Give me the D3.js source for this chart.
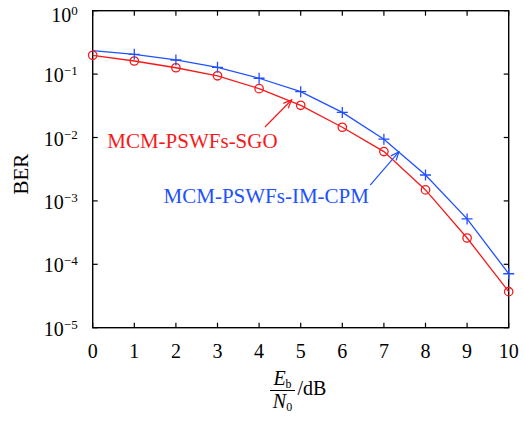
<!DOCTYPE html>
<html>
<head>
<meta charset="utf-8">
<script src="https://cdn.jsdelivr.net/npm/d3@7"></script>
<style>
  body { margin: 0; background: #fff; }
</style>
</head>
<body>
<script>
const width = 524;
const height = 423;

// Eb/N0 in dB
const snr = [0, 1, 2, 3, 4, 5, 6, 7, 8, 9, 10];
// BER values
const berSGO = [0.198, 0.161, 0.126, 0.094, 0.059, 0.0322, 0.0145, 0.0060, 0.00149, 0.00026, 0.000037];
const berCPM = [0.234, 0.205, 0.167, 0.128, 0.086, 0.0528, 0.0249, 0.0094, 0.00256, 0.00052, 0.000071];
const xTicks = [0, 1, 2, 3, 4, 5, 6, 7, 8, 9, 10];
const yExps = [0, -1, -2, -3, -4, -5];

const red = "#f51a1a";
const blue = "#2050ff";
const serif = "'Liberation Serif', 'Times New Roman', 'DejaVu Serif', serif";

const plotL = 92.7, plotR = 508.7, plotT = 10.7, plotB = 327.7;

const svg = d3.select("body")
    .append("svg")
    .attr("width", width)
    .attr("height", height)
    .attr("font-family", serif)
    .style("font-family", serif);

const x = d3.scaleLinear().domain([0, 10]).range([plotL, plotR]);
const y = d3.scaleLog().domain([1e-5, 1]).range([plotB, plotT]);

const tickLen = 5;

// frame
svg.append("rect")
    .attr("x", plotL).attr("y", plotT)
    .attr("width", plotR - plotL).attr("height", plotB - plotT)
    .attr("fill", "none").attr("stroke", "#000").attr("stroke-width", 1.4);

// ticks, pointing inward on all four sides
const ticks = svg.append("g").attr("stroke", "#000").attr("stroke-width", 1.2);
xTicks.forEach(t => {
    ticks.append("line").attr("x1", x(t)).attr("x2", x(t)).attr("y1", plotB).attr("y2", plotB - tickLen);
    ticks.append("line").attr("x1", x(t)).attr("x2", x(t)).attr("y1", plotT).attr("y2", plotT + tickLen);
});
yExps.forEach(e => {
    const v = Math.pow(10, e);
    ticks.append("line").attr("x1", plotL).attr("x2", plotL + tickLen).attr("y1", y(v)).attr("y2", y(v));
    ticks.append("line").attr("x1", plotR).attr("x2", plotR - tickLen).attr("y1", y(v)).attr("y2", y(v));
});

// x tick labels
svg.append("g").selectAll("text")
    .data(xTicks)
    .enter()
    .append("text")
    .attr("x", d => x(d))
    .attr("y", plotB + 30)
    .attr("text-anchor", "middle")
    .attr("font-size", 20)
    .text(d => d);

// y tick labels 10^e
const yl = svg.append("g").selectAll("text")
    .data(yExps)
    .enter()
    .append("text")
    .attr("x", plotL - 15)
    .attr("y", d => y(Math.pow(10, d)) + (d === 0 ? 11 : 8))
    .attr("text-anchor", "end")
    .attr("font-size", 20);
yl.append("tspan").text("10");
yl.append("tspan")
    .attr("dy", -7)
    .attr("font-size", 13)
    .text(d => d === 0 ? "0" : "\u2212" + (-d));

// y axis title
svg.append("text")
    .attr("transform", `translate(28,${(plotT + plotB) / 2 + 5}) rotate(-90)`)
    .attr("text-anchor", "middle")
    .attr("font-size", 21)
    .text("BER");

// x axis title: Eb/N0 fraction then /dB
const fx = 282.5;
const xt = svg.append("g");
const num = xt.append("text").attr("x", fx).attr("y", 385).attr("text-anchor", "middle").attr("font-size", 20);
num.append("tspan").attr("font-style", "italic").text("E");
num.append("tspan").attr("dy", 3).attr("font-size", 12).text("b");
xt.append("line")
    .attr("x1", fx - 12.5).attr("x2", fx + 12.5)
    .attr("y1", 390.5).attr("y2", 390.5)
    .attr("stroke", "#000").attr("stroke-width", 1);
const den = xt.append("text").attr("x", fx).attr("y", 408).attr("text-anchor", "middle").attr("font-size", 20);
den.append("tspan").attr("font-style", "italic").text("N");
den.append("tspan").attr("dy", 3).attr("font-size", 12).text("0");
xt.append("text").attr("x", fx + 15).attr("y", 395).attr("font-size", 20).text("/dB");

// curves
const line = d3.line()
    .x(d => x(d[0]))
    .y(d => y(d[1]));

const sgo = snr.map((s, i) => [s, berSGO[i]]);
const cpm = snr.map((s, i) => [s, berCPM[i]]);

svg.append("path").datum(cpm).attr("d", line)
    .attr("fill", "none").attr("stroke", blue).attr("stroke-width", 1.3);
svg.append("path").datum(sgo).attr("d", line)
    .attr("fill", "none").attr("stroke", red).attr("stroke-width", 1.3);

// markers
svg.append("g").selectAll("circle")
    .data(sgo)
    .enter()
    .append("circle")
    .attr("cx", d => x(d[0]))
    .attr("cy", d => y(d[1]))
    .attr("r", 4.2)
    .attr("fill", "none")
    .attr("stroke", red)
    .attr("stroke-width", 1.3);

const plus = 5.5;
svg.append("g").selectAll("path")
    .data(cpm.slice(1))
    .enter()
    .append("path")
    .attr("d", d => {
        const cx = x(d[0]), cy = y(d[1]);
        return `M${cx - plus},${cy}H${cx + plus}M${cx},${cy - plus}V${cy + plus}`;
    })
    .attr("stroke", blue)
    .attr("stroke-width", 1.3);

// annotations with arrows
const notes = [
    {label: "MCM-PSWFs-SGO", color: red, tx: 0.35, ty: 0.0068, anchor: "start",
     from: [4.14, 0.01465], to: [4.78, 0.0391]},
    {label: "MCM-PSWFs-IM-CPM", color: blue, tx: 6.64, ty: 0.00093, anchor: "end",
     from: [6.67, 0.00178], to: [7.36, 0.00593]}
];

notes.forEach(n => {
    svg.append("text")
        .attr("x", x(n.tx))
        .attr("y", y(n.ty))
        .attr("text-anchor", n.anchor)
        .attr("font-size", 21)
        .attr("fill", n.color)
        .text(n.label);

    const x0 = x(n.from[0]), y0 = y(n.from[1]);
    const x1 = x(n.to[0]), y1 = y(n.to[1]);
    const ang = Math.atan2(y1 - y0, x1 - x0);
    const hl = 9, spread = 0.4;
    const g = svg.append("g").attr("stroke", n.color).attr("stroke-width", 1.2).attr("fill", "none");
    g.append("line").attr("x1", x0).attr("y1", y0).attr("x2", x1).attr("y2", y1);
    g.append("path").attr("d",
        `M${x1 - hl * Math.cos(ang - spread)},${y1 - hl * Math.sin(ang - spread)}` +
        `L${x1},${y1}` +
        `L${x1 - hl * Math.cos(ang + spread)},${y1 - hl * Math.sin(ang + spread)}`);
});
</script>
</body>
</html>
